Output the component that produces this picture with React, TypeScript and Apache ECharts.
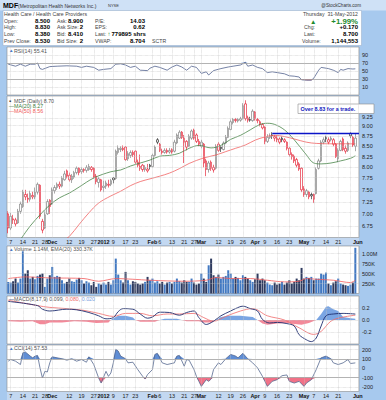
import React, { useEffect, useRef } from "react";
import * as echarts from "echarts";

// ---------- categories (trading days) ----------
const NOV_2011 = [4,7,8,9,10,11,14,15,16,17,18,21,22,23,25,28,29,30];
const DEC_2011 = [1,2,5,6,7,8,9,12,13,14,15,16,19,20,21,22,23,27,28,29,30];
const JAN_2012 = [3,4,5,6,9,10,11,12,13,17,18,19,20,23,24,25,26,27,30,31];
const FEB_2012 = [1,2,3,6,7,8,9,10,13,14,15,16,17,21,22,23,24,27,28,29];
const MAR_2012 = [1,2,5,6,7,8,9,12,13,14,15,16,19,20,21,22,23,26,27,28,29,30];
const APR_2012 = [2,3,4,5,9,10,11,12,13,16,17,18,19,20,23,24,25,26,27,30];
const MAY_2012 = [1,2,3,4,7,8,9,10,11,14,15,16,17,18,21,22,23,24,25,29,30,31];
const pad = (n: number) => String(n).padStart(2, "0");
const DATES: string[] = [
  ...NOV_2011.map((d) => `2011-11-${pad(d)}`),
  ...DEC_2011.map((d) => `2011-12-${pad(d)}`),
  ...JAN_2012.map((d) => `2012-01-${pad(d)}`),
  ...FEB_2012.map((d) => `2012-02-${pad(d)}`),
  ...MAR_2012.map((d) => `2012-03-${pad(d)}`),
  ...APR_2012.map((d) => `2012-04-${pad(d)}`),
  ...MAY_2012.map((d) => `2012-05-${pad(d)}`),
  "2012-06-01",
];

const TICK_DATES = ["2011-11-07","2011-11-14","2011-11-21","2011-11-28","2011-12-01","2011-12-12","2011-12-19","2011-12-27","2012-01-03","2012-01-09","2012-01-17","2012-01-23","2012-02-01","2012-02-06","2012-02-13","2012-02-21","2012-02-27","2012-03-01","2012-03-12","2012-03-19","2012-03-26","2012-04-02","2012-04-09","2012-04-16","2012-04-23","2012-05-01","2012-05-07","2012-05-14","2012-05-21","2012-05-29","2012-06-01"];
const TICK_TEXT = ["7","14","21","28","Dec","12","19","27","2012","9","17","23","Feb","6","13","21","27","Mar","12","19","26","Apr","9","16","23","May","7","14","21","29","Jun"];
const BOLD_TICKS = ["Dec","2012","Feb","Mar","Apr","May","Jun"];

// ---------- prices ----------
const OPEN = [
  7.00,6.72,6.90,6.88,6.82,7.05,7.15,7.40,7.32,7.30,7.38,7.35,7.45,7.60,6.85,6.72,7.00,7.28,
  7.20,7.48,7.55,7.62,7.58,7.72,7.92,7.82,7.72,7.78,7.88,7.98,7.90,7.95,7.93,7.95,8.00,7.98,7.80,7.66,7.72,
  7.55,7.58,7.62,7.62,7.76,7.75,8.35,8.42,8.45,8.48,8.20,8.28,8.35,8.38,8.12,7.98,8.05,7.95,7.92,8.05,
  8.02,8.28,8.66,8.55,8.38,8.35,8.40,8.36,8.42,8.38,8.58,8.70,8.85,8.60,8.62,8.50,8.70,8.90,8.78,8.62,
  8.50,8.55,8.15,7.95,8.12,8.00,7.98,8.55,8.48,8.42,8.58,8.72,8.92,9.10,9.18,9.14,9.16,9.20,9.60,9.22,9.18,9.15,
  9.38,9.18,9.12,9.05,8.98,8.62,8.72,8.78,8.74,8.70,8.68,8.70,8.66,8.60,8.45,8.30,8.26,8.18,8.08,7.98,
  7.52,7.40,7.45,7.40,7.40,7.42,7.98,8.15,8.60,8.72,8.60,8.66,8.66,8.55,8.20,8.40,8.68,8.45,8.40,8.82,8.72,8.50,
];
const HIGH = [
  7.05,7.02,6.98,6.92,7.10,7.25,7.50,7.50,7.42,7.48,7.46,7.55,7.66,7.62,6.90,7.05,7.30,7.30,
  7.55,7.60,7.66,7.68,7.80,7.92,7.95,7.88,7.85,7.92,8.02,8.00,8.00,7.98,8.05,8.08,8.03,8.00,7.85,7.78,7.74,
  7.70,7.70,7.72,7.74,7.78,8.42,8.52,8.50,8.52,8.50,8.38,8.40,8.40,8.40,8.18,8.30,8.08,8.05,8.08,8.08,
  8.32,8.52,8.70,8.58,8.44,8.45,8.45,8.46,8.45,8.66,8.82,8.90,8.88,8.78,8.65,8.80,8.92,8.94,8.82,8.68,
  8.66,8.58,8.20,8.15,8.16,8.06,8.55,8.60,8.50,8.62,8.78,9.00,9.18,9.22,9.22,9.22,9.25,9.62,9.70,9.28,9.25,9.45,
  9.40,9.22,9.16,9.08,9.00,8.80,8.82,8.85,8.78,8.76,8.72,8.74,8.70,8.62,8.48,8.35,8.30,8.22,8.12,8.00,
  7.58,7.52,7.48,7.44,7.42,8.00,8.20,8.65,8.72,8.76,8.72,8.75,8.70,8.58,8.45,8.66,8.72,8.52,8.62,8.85,8.76,8.83,
];
const LOW = [
  6.62,6.68,6.80,6.75,6.80,7.00,7.12,7.28,7.22,7.25,7.30,7.30,7.40,6.90,6.62,6.70,6.98,7.00,
  7.18,7.42,7.50,7.52,7.55,7.70,7.75,7.68,7.65,7.74,7.84,7.82,7.85,7.88,7.88,7.92,7.90,7.75,7.62,7.55,7.46,
  7.45,7.52,7.55,7.58,7.64,7.72,8.30,8.36,8.38,8.15,8.15,8.22,8.24,8.08,8.00,7.92,7.90,7.90,7.88,7.95,
  8.00,8.25,8.55,8.36,8.30,8.32,8.32,8.32,8.32,8.35,8.55,8.68,8.68,8.10,8.40,8.48,8.66,8.66,8.58,8.50,
  8.45,8.00,7.80,7.88,7.92,7.88,7.95,8.36,8.36,8.40,8.55,8.70,8.90,9.05,9.10,9.10,9.12,9.18,9.15,9.10,9.12,9.12,
  9.15,9.08,9.00,8.92,8.55,8.58,8.68,8.68,8.62,8.60,8.55,8.60,8.58,8.40,8.25,8.18,8.10,8.00,7.92,7.45,
  7.35,7.35,7.30,7.30,7.22,7.40,7.95,8.12,8.55,8.60,8.55,8.62,8.50,8.22,8.12,8.38,8.38,8.32,8.36,8.70,8.48,8.38,
];
const CLOSE = [
  6.72,6.95,6.88,6.80,7.05,7.20,7.45,7.35,7.30,7.42,7.35,7.45,7.62,6.95,6.68,6.98,7.25,7.15,
  7.50,7.55,7.62,7.58,7.75,7.85,7.80,7.72,7.80,7.88,7.98,7.88,7.95,7.93,8.00,8.02,7.95,7.78,7.68,7.74,7.50,
  7.58,7.65,7.60,7.70,7.72,8.38,8.45,8.45,8.42,8.18,8.32,8.35,8.30,8.12,8.05,8.02,7.95,8.00,7.96,8.02,
  8.28,8.48,8.60,8.40,8.35,8.40,8.36,8.40,8.36,8.60,8.78,8.85,8.72,8.70,8.48,8.75,8.88,8.70,8.62,8.55,
  8.60,8.10,7.95,8.10,7.98,7.94,8.50,8.40,8.44,8.58,8.72,8.95,9.12,9.18,9.15,9.18,9.20,9.55,9.20,9.16,9.16,9.40,
  9.20,9.15,9.05,8.96,8.62,8.72,8.75,8.76,8.70,8.66,8.60,8.66,8.62,8.45,8.30,8.25,8.15,8.05,7.96,7.50,
  7.40,7.48,7.35,7.37,7.30,7.95,8.15,8.60,8.66,8.68,8.66,8.70,8.55,8.25,8.40,8.62,8.42,8.38,8.58,8.76,8.53,8.70,
];
const VOLUME_K = [
  291,274,307,374,274,374,1057,499,582,374,416,357,441,474,499,166,374,457,
  666,416,441,416,332,249,291,374,307,291,349,391,332,249,307,274,207,291,166,249,224,
  274,224,291,224,332,874,474,332,274,541,332,224,307,291,249,224,249,291,416,332,
  374,274,307,249,291,224,274,291,249,291,374,307,274,332,291,291,374,274,224,249,
  499,374,291,707,874,457,416,474,374,416,441,582,499,374,416,391,332,457,416,374,332,291,
  357,499,332,374,332,274,224,207,274,224,249,291,224,274,332,249,291,374,332,641,
  374,416,391,416,332,374,374,499,474,524,249,207,274,307,374,249,224,207,191,224,274,1145,
];

// ---------- indicators: [dayIndex, value] ----------
const MA20_PTS = [[5,6.50],[9,6.76],[13,6.98],[17,7.18],[21,7.33],[25,7.43],[29,7.56],[35,7.76],[42,7.90],[46,7.94],[50,8.03],[54,8.10],[58,8.17],[62,8.26],[66,8.28],[70,8.33],[74,8.45],[78,8.52],[83,8.46],[87,8.52],[91,8.67],[95,8.77],[99,8.91],[103,9.05],[106,9.08],[109,9.05],[113,8.91],[117,8.66],[122,8.29],[125,8.10],[128,8.08],[132,8.10],[136,8.15],[140,8.21],[142,8.27]];
const MA50_PTS = [[23,6.50],[25,6.56],[29,6.79],[33,7.02],[37,7.22],[42,7.37],[46,7.47],[50,7.59],[54,7.68],[58,7.74],[62,7.80],[66,7.87],[70,7.97],[74,8.09],[80,8.22],[85,8.29],[89,8.37],[93,8.45],[97,8.53],[101,8.65],[105,8.73],[109,8.77],[113,8.74],[117,8.68],[122,8.60],[126,8.57],[132,8.56],[138,8.56],[142,8.56]];
const VOL_EMA_PTS = [[0,374],[7,416],[17,391],[31,374],[37,307],[44,374],[51,357],[58,332],[72,307],[81,332],[85,400],[92,374],[99,374],[106,332],[113,291],[119,307],[122,374],[126,357],[133,332],[140,274],[142,330]];
const RSI_PTS = [[0,67],[3,62],[5,67],[7,62],[9,67],[11,67],[12,70],[13,56],[14,54],[17,61],[20,62],[24,63],[28,62],[30,59],[32,62],[35,59],[37,52],[39,54],[42,56],[44,67],[46,68],[48,65],[50,59],[52,62],[54,52],[57,51],[58,57],[60,62],[62,59],[65,52],[67,60],[69,65],[71,60],[73,52],[75,62],[77,59],[79,44],[81,48],[82,40],[84,51],[87,56],[90,60],[92,62],[95,65],[97,72],[98,62],[100,65],[102,59],[104,56],[106,46],[108,48],[110,46],[113,43],[115,38],[117,37],[119,35],[120,28],[122,27],[124,27],[125,32],[127,52],[128,59],[131,56],[133,52],[135,46],[136,54],[137,52],[139,56],[141,55],[142,55.41]];
const MACD_PTS = [[0,0.31],[12,0.24],[14,0.18],[17,0.15],[24,0.18],[28,0.17],[33,0.125],[37,0.07],[40,0.02],[43,0.04],[45,0.14],[47,0.19],[51,0.18],[54,0.10],[57,0.03],[59,0.05],[62,0.13],[66,0.125],[70,0.08],[73,0.125],[76,0.15],[78,0.04],[81,-0.074],[84,-0.02],[87,0.07],[91,0.15],[93,0.19],[96,0.23],[99,0.19],[102,0.15],[104,0.01],[107,-0.05],[110,-0.04],[114,-0.06],[117,-0.10],[119,-0.245],[122,-0.33],[124,-0.36],[126,-0.30],[128,-0.10],[130,0.07],[133,0.10],[137,0.11],[142,0.099]];
const SIGNAL_PTS = [[0,0.33],[12,0.24],[17,0.21],[24,0.19],[31,0.16],[37,0.11],[43,0.06],[48,0.11],[54,0.11],[59,0.07],[65,0.10],[70,0.10],[76,0.11],[80,0.04],[84,-0.02],[89,0.06],[95,0.15],[100,0.19],[106,0.07],[113,0.0],[119,-0.13],[125,-0.24],[128,-0.19],[132,-0.02],[136,0.04],[142,0.08]];
const HIST_PTS = [[0,-0.02],[5,-0.03],[10,-0.02],[13,-0.07],[15,-0.07],[17,-0.04],[22,-0.04],[27,-0.02],[32,-0.03],[36,-0.05],[41,-0.04],[42,0],[43,0.03],[45,0.07],[48,0.07],[51,0.04],[52,0],[54,-0.03],[60,-0.03],[62,0],[64,0.02],[69,0.02],[71,0],[73,-0.02],[78,-0.02],[80,-0.04],[83,-0.04],[85,0],[87,0.05],[90,0.07],[95,0.07],[100,0.05],[102,0],[104,-0.06],[106,-0.08],[110,-0.06],[114,-0.05],[118,-0.07],[120,-0.08],[123,-0.05],[126,0],[128,0.1],[130,0.22],[131,0.23],[133,0.18],[135,0.15],[137,0.05],[140,0.03],[142,0.02]];
const CCI_PTS = [[0,76],[1,94],[3,76],[5,40],[6,167],[7,175],[9,131],[10,112],[11,131],[12,138],[13,4],[14,-105],[15,-33],[16,-40],[17,58],[18,123],[20,112],[22,102],[24,87],[26,102],[28,76],[30,94],[32,65],[33,123],[35,40],[37,-105],[38,-159],[40,-33],[41,-87],[42,-51],[43,58],[44,203],[45,185],[46,131],[48,102],[49,58],[51,65],[53,-14],[55,-87],[56,-116],[57,-68],[59,-14],[60,149],[61,160],[63,58],[65,40],[68,58],[69,131],[70,138],[72,22],[73,94],[74,87],[76,-14],[77,-87],[78,-141],[79,-195],[81,-123],[82,-141],[83,-116],[84,-14],[86,58],[87,40],[89,102],[91,149],[93,131],[94,112],[96,160],[98,102],[100,58],[102,4],[104,-87],[105,-141],[106,-195],[108,-141],[110,-123],[112,-80],[114,-72],[115,-141],[117,-159],[119,-141],[121,-195],[122,-159],[124,-123],[126,-14],[128,112],[130,131],[132,102],[133,58],[135,40],[137,58],[139,94],[140,51],[142,57.53]];

const PRICE_TICKS = [6.75, 7.0, 7.25, 7.5, 7.75, 8.0, 8.25, 8.5, 8.75, 9.0, 9.25];
const PRICE_RANGE = [6.54, 9.82];
const RESISTANCE = 8.83;
const RESISTANCE_FROM = 108;
const RSI_TICKS = [10, 30, 50, 70, 90];
const VOL_TICKS = [250, 500, 750, 1000];
const MACD_TICKS = [-0.2, 0, 0.2];
const CCI_TICKS = [-200, -100, 0, 100, 200];

const FONT = "'Liberation Sans', Arial, sans-serif";

function buildOption() {
  const N = DATES.length;
  const L = 7, R = 27;
  const grids = [
    { top: 47, height: 48 },
    { top: 96, height: 141.5 },
    { top: 246, height: 47.5 },
    { top: 296, height: 48 },
    { top: 345, height: 46.5 },
  ].map((g) => ({ ...g, left: L, right: R, show: true, backgroundColor: "#ffffff", borderColor: "#8c8c8c", borderWidth: 0.6 }));

  const tickIdx = TICK_DATES.map((d) => DATES.indexOf(d));
  const labelFmt = (v: string) => {
    const k = TICK_DATES.indexOf(v);
    if (k < 0) return "";
    const t = TICK_TEXT[k];
    return BOLD_TICKS.includes(t) ? `{b|${t}}` : `{n|${t}}`;
  };
  const catAxes = grids.map((_, g) => ({
    type: "category",
    gridIndex: g,
    data: DATES,
    boundaryGap: true,
    axisLine: { show: false },
    axisTick: { show: false },
    splitLine: { show: false },
    axisLabel: {
      show: g === 1 || g === 4,
      interval: (_i: number, v: string) => TICK_DATES.includes(v),
      formatter: labelFmt,
      showMaxLabel: true,
      showMinLabel: true,
      hideOverlap: false,
      margin: 1.5,
      rich: {
        n: { fontSize: 5.5, fontFamily: FONT, color: "#222" },
        b: { fontSize: 5.5, fontFamily: FONT, color: "#111", fontWeight: "bold" },
      },
    },
  }));
  const valAxes = grids.map((_, g) => ({ type: "value", gridIndex: g, min: -0.5, max: N - 0.5, show: false }));

  const labelStyle = { show: true, fontSize: 5.5, fontFamily: FONT, color: "#222", margin: 3, showMinLabel: true, showMaxLabel: true };
  // labels only on the listed values
  const onlyTicks = (vals: number[], fmt: (v: number) => string) => (v: number) =>
    vals.some((t) => Math.abs(t - v) < 1e-6) ? fmt(v) : "";
  const yBase = { position: "right", axisLine: { show: false }, axisTick: { show: false }, splitLine: { show: false } };
  const lnTicks = PRICE_TICKS.map((p) => Math.log(p));
  const yAxes = [
    { ...yBase, gridIndex: 0, type: "value", min: -10, max: 110, interval: 20,
      axisLabel: { ...labelStyle, formatter: onlyTicks(RSI_TICKS, (v) => String(Math.round(v))) } },
    { ...yBase, gridIndex: 1, type: "value", min: Math.log(PRICE_RANGE[0]), max: Math.log(PRICE_RANGE[1]),
      axisLabel: { ...labelStyle, customValues: lnTicks, formatter: (v: number) => Math.exp(v).toFixed(2) } },
    { ...yBase, gridIndex: 2, type: "value", min: 0, max: 1190,
      axisLabel: { ...labelStyle, customValues: VOL_TICKS, formatter: (v: number) => (v >= 1000 ? (v / 1000).toFixed(2) + "M" : Math.round(v) + "K") } },
    { ...yBase, gridIndex: 3, type: "value", min: -0.4, max: 0.4, interval: 0.2,
      axisLabel: { ...labelStyle, formatter: onlyTicks(MACD_TICKS, (v) => v.toFixed(1)) } },
    { ...yBase, gridIndex: 4, type: "value", min: -250, max: 250, interval: 50,
      axisLabel: { ...labelStyle, formatter: onlyTicks(CCI_TICKS, (v) => String(Math.round(v))) } },
  ];

  const dotted = { type: "dotted", color: "#c4c4c4", width: 0.6 };
  const solid = { type: "solid", color: "#a0a0a0", width: 0.8 };
  const vLines = tickIdx.map((i) => ({ xAxis: i, lineStyle: dotted }));
  const hLines = (vals: number[], solidVals: number[] = []) =>
    vals.map((v) => ({ yAxis: v, lineStyle: solidVals.includes(v) ? solid : dotted }));
  const mark = (data: any[]) => ({ silent: true, symbol: ["none", "none"], label: { show: false }, animation: false, data });

  const lineS = (xi: number, yi: number, pts: number[][], color: string, width: number, extra: any = {}) => ({
    type: "line",
    xAxisIndex: 5 + xi,
    yAxisIndex: yi,
    data: pts,
    symbol: "none",
    lineStyle: { color, width },
    itemStyle: { color },
    silent: true,
    ...extra,
  });
  const fillS = (xi: number, pts: number[][], origin: number, color: string, above: boolean) => ({
    type: "line",
    xAxisIndex: 5 + xi,
    yAxisIndex: xi,
    data: pts.map(([i, v]) => [i, above ? Math.max(v, origin) : Math.min(v, origin)]),
    symbol: "none",
    lineStyle: { width: 0, opacity: 0 },
    areaStyle: { origin, color, opacity: 0.9 },
    silent: true,
  });

  const candleData = OPEN.map((o, i) => {
    const c = CLOSE[i];
    const prev = i > 0 ? CLOSE[i - 1] : o;
    const upDay = c >= prev;
    const hollow = c >= o;
    const stroke = upDay ? (hollow ? "#6e6e6e" : "#111111") : "#e2061c";
    return {
      value: [Math.log(o), Math.log(c), Math.log(LOW[i]), Math.log(HIGH[i])],
      itemStyle: { color: "#ffffff", color0: stroke, borderColor: stroke, borderColor0: stroke, borderColorDoji: stroke, borderWidth: 0.6 },
    };
  });
  const volData = VOLUME_K.map((v, i) => ({
    value: v,
    itemStyle: { color: i > 0 && CLOSE[i] < CLOSE[i - 1] ? "#2f3b5f" : "#4279c2" },
  }));

  const lnPts = (pts: number[][]) => pts.map(([i, v]) => [i, Math.log(v)]);
  const resY = Math.log(RESISTANCE);

  const series: any[] = [
    // RSI
    fillS(0, RSI_PTS, 70, "#4f82d0", true),
    fillS(0, RSI_PTS, 30, "#e8405e", false),
    lineS(0, 0, RSI_PTS, "#52628e", 0.8, { markLine: mark([...hLines([90, 50, 10]), ...hLines([70, 30], [70, 30]), ...vLines]) }),
    // price
    {
      type: "candlestick",
      xAxisIndex: 1,
      yAxisIndex: 1,
      data: candleData,
      barWidth: 2,
      silent: true,
      markLine: mark([...hLines(lnTicks), ...vLines]),
    },
    lineS(1, 1, lnPts(MA20_PTS), "#3d7d3d", 0.75, { smooth: 0.35 }),
    lineS(1, 1, lnPts(MA50_PTS), "#f05858", 0.75, {
      smooth: 0.35,
      markLine: mark([[{ coord: [RESISTANCE_FROM, resY], lineStyle: { color: "#0a14c8", width: 1.4, type: "solid" } }, { coord: [N - 0.5, resY] }]]),
    }),
    // volume
    {
      type: "bar",
      xAxisIndex: 2,
      yAxisIndex: 2,
      data: volData,
      barWidth: "82%",
      silent: true,
      markLine: mark([...hLines(VOL_TICKS), ...vLines]),
    },
    lineS(2, 2, VOL_EMA_PTS, "#f25c5c", 0.8, { smooth: 0.3 }),
    // MACD
    fillS(3, HIST_PTS, 0, "#6b9be0", true),
    fillS(3, HIST_PTS, 0, "#f27c8e", false),
    lineS(3, 3, SIGNAL_PTS, "#f06a6a", 0.8, { smooth: 0.35 }),
    lineS(3, 3, MACD_PTS, "#1d2d6e", 0.9, { smooth: 0.35, markLine: mark([...hLines(MACD_TICKS), ...vLines]) }),
    // CCI
    fillS(4, CCI_PTS, 100, "#4f82d0", true),
    fillS(4, CCI_PTS, -100, "#f0627a", false),
    lineS(4, 4, CCI_PTS, "#56688f", 0.8, { markLine: mark([...hLines([200, 0, -200]), ...hLines([100, -100], [100, -100]), ...vLines]) }),
  ];

  // ---------- graphic: header, label strips, panel legends ----------
  const T = (x: number, y: number, text: string, o: any = {}) => ({
    type: "text",
    x,
    y,
    z: 20,
    silent: true,
    style: {
      text,
      fill: o.fill || "#444",
      fontSize: o.size || 5.2,
      fontWeight: o.bold ? "bold" : "normal",
      fontFamily: FONT,
      align: o.align || "left",
      verticalAlign: "middle",
      ...(o.rich ? { rich: o.rich } : {}),
    },
  });
  const R1 = 14.3, R2 = 20.8, R3 = 27.4, R4 = 34.3, R5 = 41;
  const V = (x: number, y: number, t: string) => T(x, y, t, { bold: true, fill: "#000", size: 6, align: "right" });
  const graphic: any[] = [
    { type: "rect", z: -10, silent: true, shape: { x: 0, y: 0, width: 386, height: 10.5 }, style: { fill: "#cfe1f6" } },
    { type: "rect", z: -10, silent: true, shape: { x: 3, y: 10.5, width: 358.5, height: 35 }, style: { fill: "#ffffff", stroke: "#9fb4cc", lineWidth: 0.6 } },
    { type: "rect", z: -10, silent: true, shape: { x: 7, y: 237.5, width: 352, height: 8 }, style: { fill: "#c3d8f1" } },
    { type: "rect", z: -10, silent: true, shape: { x: 7, y: 391.5, width: 352, height: 8.5 }, style: { fill: "#c3d8f1" } },
    T(3, 5.4, "MDF", { bold: true, fill: "#000", size: 7 }),
    T(18, 5.6, "(Metropolitan Health Networks Inc.)", { size: 5, fill: "#333" }),
    T(108, 5.8, "NYSE", { size: 4, fill: "#333" }),
    T(361, 5.6, "@StockCharts.com", { size: 4.6, fill: "#333", align: "right" }),
    T(4, R1, "Health Care / Health Care Providers"),
    T(4, R2, "Open:"), V(50, R2, "8.500"), T(57, R2, "Ask:"), V(83, R2, "8.900"), T(95, R2, "P/E:"), V(145, R2, "14.03"),
    T(4, R3, "High:"), V(50, R3, "8.830"), T(57, R3, "Ask Size:"), V(83, R3, "2"), T(95, R3, "EPS:"), V(145, R3, "0.62"),
    T(4, R4, "Low:"), V(50, R4, "8.380"), T(57, R4, "Bid:"), V(83, R4, "8.410"), T(95, R4, "Last:"),
    T(107.5, R4, "↑", { size: 6, fill: "#1a8a2a", bold: true }), T(111.5, R4, "779895 shrs", { size: 6, bold: true, fill: "#000" }),
    T(4, R5, "Prev Close:"), V(50, R5, "8.530"), T(57, R5, "Bid Size:"), V(83, R5, "2"), T(95, R5, "VWAP:"), V(145, R5, "8.704"), T(152, R5, "SCTR"),
    T(358, R1, "Thursday  31-May-2012", { align: "right" }),
    T(310, 21.4, "▲", { size: 6.5, fill: "#1e8a2e" }), T(358, 21.4, "+1.99%", { size: 7.8, bold: true, fill: "#1e8a2e", align: "right" }),
    T(304, R3, "Chg:"), V(358, R3, "+0.170"),
    T(304, R4, "Last:"), V(358, R4, "8.700"),
    T(302, R5, "Volume:"), V(358, R5, "1,144,553"),
    // panel legends
    T(9, 50.5, "▲", { size: 4.5, fill: "#4a78c2" }), T(14, 50.5, "RSI(14) 55.41", { size: 5.3, fill: "#555" }),
    T(9, 100.5, "▪", { size: 6, fill: "#333" }), T(14, 100.5, "MDF (Daily) 8.70", { size: 5.3, fill: "#555" }),
    T(9, 105.6, "—", { size: 5, fill: "#3d7d3d" }), T(14, 105.6, "MA(20) 8.27", { size: 5.3, fill: "#3d7d3d" }),
    T(9, 110.7, "—", { size: 5, fill: "#f05858" }), T(14, 110.7, "MA(50) 8.56", { size: 5.3, fill: "#f05858" }),
    T(9, 249, "▲", { size: 4.5, fill: "#4a78c2" }), T(14, 249, "Volume 1.14M, EMA(20) 330.37K", { size: 5.3, fill: "#555" }),
    T(9, 299, "—", { size: 5, fill: "#1d2d6e" }),
    T(14, 299, "{a|MACD(8,17,9) 0.099, }{r|0.080}{a|, }{c|0.020}", {
      size: 5.3,
      rich: {
        a: { fontSize: 5.3, fontFamily: FONT, fill: "#555" },
        r: { fontSize: 5.3, fontFamily: FONT, fill: "#f06a6a" },
        c: { fontSize: 5.3, fontFamily: FONT, fill: "#7aa0e0" },
      },
    }),
    T(9, 348, "▲", { size: 4.5, fill: "#4a78c2" }), T(14, 348, "CCI(14) 57.53", { size: 5.3, fill: "#555" }),
    // annotation
    {
      type: "group",
      z: 20,
      silent: true,
      children: [
        { type: "rect", shape: { x: 298, y: 104, width: 76, height: 9.5 }, style: { fill: "#ffffff", stroke: "#8c8c8c", lineWidth: 0.6 } },
        { type: "text", x: 300.5, y: 109, style: { text: "Over 8.83 for a trade.", fill: "#1020c0", fontSize: 5.5, fontWeight: "bold", fontFamily: FONT, verticalAlign: "middle" } },
      ],
    },
  ];

  return {
    animation: false,
    backgroundColor: "transparent",
    textStyle: { fontFamily: FONT },
    grid: grids,
    xAxis: [...catAxes, ...valAxes],
    yAxis: yAxes,
    series,
    graphic,
  };
}

export default function App() {
  const ref = useRef<HTMLDivElement>(null);
  useEffect(() => {
    const chart = echarts.init(ref.current as HTMLDivElement, null, { renderer: "svg" });
    chart.setOption(buildOption() as any);
    return () => chart.dispose();
  }, []);
  return (
    <div
      ref={ref}
      style={{ position: "fixed", left: 0, top: 0, width: 386, height: 400, background: "#a7c9ee" }}
    />
  );
}
